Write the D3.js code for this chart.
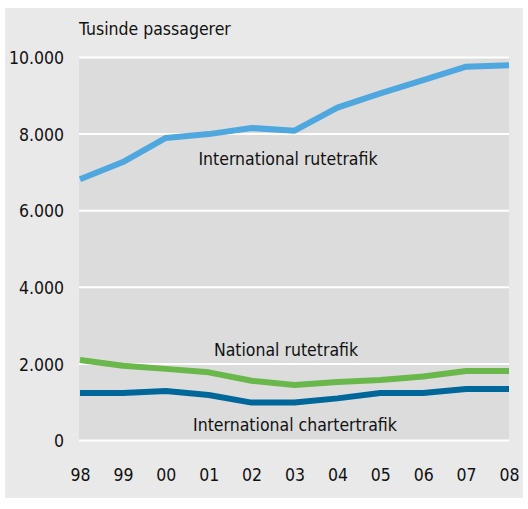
<!DOCTYPE html>
<html><head><meta charset="utf-8">
<script src="https://cdn.jsdelivr.net/npm/d3@7"></script>
<style>
html,body{margin:0;padding:0;background:#fff;}
svg{display:block;}
text{font-family:"Liberation Sans Narrow","DejaVu Sans Condensed","Arial Narrow",sans-serif;fill:#111;}
</style></head><body>
<svg id="c" width="528" height="509"></svg>
<script>
const years = ["98","99","00","01","02","03","04","05","06","07","08"];
const intRute = [6820,7270,7900,8000,8160,8090,8690,9065,9410,9760,9800];
const natRute = [2100,1950,1870,1780,1560,1450,1530,1580,1670,1815,1815];
const intCharter = [1240,1240,1290,1190,990,990,1100,1240,1240,1345,1345];
const yTicks = [0,2000,4000,6000,8000,10000];
const seriesNames = ["International rutetrafik","National rutetrafik","International chartertrafik"];
const colors = ["#4ea7de","#6ab84b","#00679b"];

const svg = d3.select("#c");
svg.append("rect").attr("x",5).attr("y",8).attr("width",518).attr("height",490).attr("fill","#e9e9e9");

const x = d3.scalePoint().domain(years).range([80,509]);
const y = d3.scaleLinear().domain([0,10000]).range([440.5,57.5]);

svg.append("rect").attr("x",79).attr("y",y(10000)).attr("width",430).attr("height",y(0)-y(10000)).attr("fill","#dcdcdc");

svg.append("g").selectAll("line").data(yTicks).join("line")
  .attr("x1",79).attr("x2",509).attr("y1",d=>y(d)).attr("y2",d=>y(d))
  .attr("stroke","#fff").attr("stroke-width",2);

const fs = "17.5px";
const fmt = d => d===0 ? "0" : d3.format(",")(d).replace(/,/g,".");
const yAxis = d3.axisLeft(y).tickValues(yTicks).tickFormat(fmt).tickSize(0).tickPadding(0);
const gy = svg.append("g").attr("transform","translate(64,0)").call(yAxis);
gy.select(".domain").remove();
gy.selectAll("text").style("font-size",fs).attr("dy","0.35em").attr("fill","#111");

const xAxis = d3.axisBottom(x).tickSize(0).tickPadding(0);
const gx = svg.append("g").attr("transform","translate(0,469)").call(xAxis);
gx.select(".domain").remove();
gx.selectAll("text").style("font-size",fs).attr("dy","0.71em").attr("fill","#111");

const line = d3.line().x((d,i)=>x(years[i])).y(d=>y(d));
[intRute,natRute,intCharter].forEach((s,k)=>{
  svg.append("path").datum(s).attr("d",line).attr("fill","none")
    .attr("stroke",colors[k]).attr("stroke-width",6).attr("stroke-linejoin","round");
});

svg.append("text").attr("x",79).attr("y",35).style("font-size",fs).text("Tusinde passagerer");
const labelPos = [[288,165],[286,356],[295,431]];
seriesNames.forEach((n,k)=>{
  svg.append("text").attr("x",labelPos[k][0]).attr("y",labelPos[k][1]).attr("text-anchor","middle")
    .style("font-size",fs).text(n);
});
</script></body></html>
